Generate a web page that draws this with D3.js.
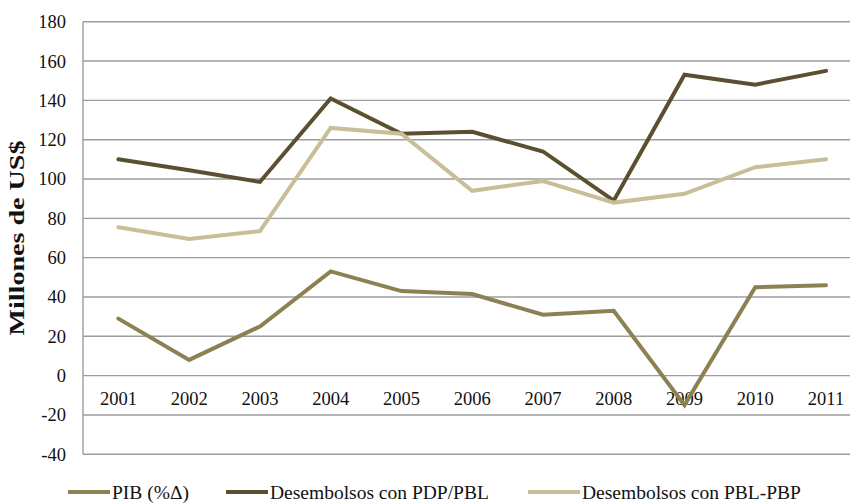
<!DOCTYPE html>
<html>
<head>
<meta charset="utf-8">
<script src="https://cdn.jsdelivr.net/npm/d3@7"></script>
<style>
  body { margin: 0; background: #fff; }
  svg { display: block; }
</style>
</head>
<body>
<svg width="850" height="503"></svg>
<script>
var years = ["2001", "2002", "2003", "2004", "2005", "2006", "2007", "2008", "2009", "2010", "2011"];
var pib = [29, 8, 25, 53, 43, 41.5, 31, 33, -15, 45, 46];
var pdpPbl = [110, 104.5, 98.5, 141, 123, 124, 114, 89, 153, 148, 155];
var pblPbp = [75.5, 69.5, 73.5, 126, 123, 94, 99, 88, 92.5, 106, 110];
var yTicks = [-40, -20, 0, 20, 40, 60, 80, 100, 120, 140, 160, 180];

var series = [
  { name: "PIB (%\u0394)", values: pib, color: "#8c8152" },
  { name: "Desembolsos con PDP/PBL", values: pdpPbl, color: "#5a4f2e" },
  { name: "Desembolsos con PBL-PBP", values: pblPbp, color: "#c8bf99" }
];

var serif = "'Liberation Serif', 'DejaVu Serif', serif";

var svg = d3.select("svg"),
  width = +svg.attr("width"),
  height = +svg.attr("height");

var plotLeft = 83, plotRight = 861.4, plotTop = 21.7, plotBottom = 454.3;

var x = d3.scalePoint().domain(years).range([plotLeft, plotRight]).padding(0.5);
var y = d3.scaleLinear().domain([-40, 180]).range([plotBottom, plotTop]);

// gridlines
svg.append("g")
  .selectAll("line")
  .data(yTicks)
  .enter().append("line")
  .attr("x1", plotLeft)
  .attr("x2", plotRight)
  .attr("y1", function(d) { return y(d); })
  .attr("y2", function(d) { return y(d); })
  .attr("stroke", "#9c9c9c")
  .attr("stroke-width", 1.4);

// left axis line
svg.append("line")
  .attr("x1", plotLeft).attr("x2", plotLeft)
  .attr("y1", plotTop).attr("y2", plotBottom)
  .attr("stroke", "#9c9c9c")
  .attr("stroke-width", 1.4);

// y tick labels
svg.append("g")
  .selectAll("text")
  .data(yTicks)
  .enter().append("text")
  .attr("x", 66)
  .attr("y", function(d) { return y(d); })
  .attr("dy", "0.35em")
  .attr("text-anchor", "end")
  .attr("font-family", serif)
  .attr("font-size", 18.5)
  .attr("fill", "#111")
  .text(function(d) { return d; });

// x labels just below the zero line
svg.append("g")
  .selectAll("text")
  .data(years)
  .enter().append("text")
  .attr("x", function(d) { return x(d); })
  .attr("y", y(0) + 29)
  .attr("text-anchor", "middle")
  .attr("font-family", serif)
  .attr("font-size", 18.5)
  .attr("fill", "#111")
  .text(function(d) { return d; });

// y title
svg.append("text")
  .attr("transform", "translate(24," + ((plotTop + plotBottom) / 2) + ") rotate(-90)")
  .attr("text-anchor", "middle")
  .attr("font-family", serif)
  .attr("font-size", 20)
  .attr("font-weight", "bold")
  .attr("textLength", 195)
  .attr("lengthAdjust", "spacingAndGlyphs")
  .attr("fill", "#111")
  .text("Millones de US$");

var line = d3.line()
  .x(function(d, i) { return x(years[i]); })
  .y(function(d) { return y(d); });

svg.append("g")
  .selectAll("path")
  .data(series)
  .enter().append("path")
  .attr("d", function(d) { return line(d.values); })
  .attr("fill", "none")
  .attr("stroke", function(d) { return d.color; })
  .attr("stroke-width", 4)
  .attr("stroke-linejoin", "miter")
  .attr("stroke-linecap", "round");

// legend
var swatchX = [68, 226, 528];
var textX = [112, 270, 582];
var legend = svg.append("g")
  .selectAll("g")
  .data(series)
  .enter().append("g")
  .attr("transform", "translate(0,492)");

legend.append("line")
  .attr("x1", function(d, i) { return swatchX[i]; })
  .attr("x2", function(d, i) { return textX[i] - 2; })
  .attr("stroke", function(d) { return d.color; })
  .attr("stroke-width", 4);

legend.append("text")
  .attr("x", function(d, i) { return textX[i]; })
  .attr("dy", "0.35em")
  .attr("font-family", serif)
  .attr("font-size", 19.5)
  .attr("fill", "#111")
  .text(function(d) { return d.name; });
</script>
</body>
</html>
